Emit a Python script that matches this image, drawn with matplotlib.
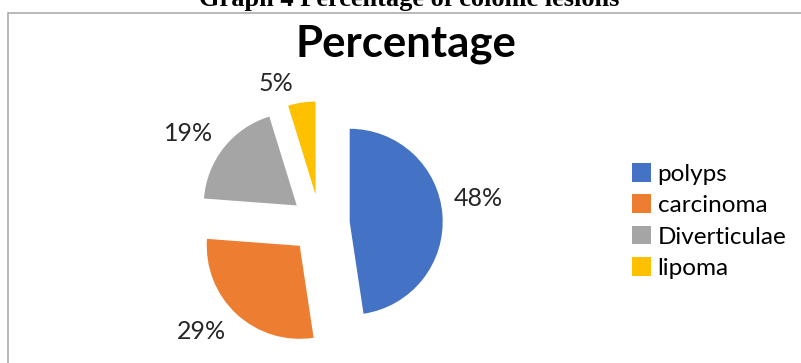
import numpy as np
import matplotlib.pyplot as plt
from matplotlib.patches import Rectangle

# Colonic lesions (case counts; the pie shows their share)
lesions = ['polyps', 'carcinoma', 'Diverticulae', 'lipoma']
cases = [10, 6, 4, 1]
colours = ['#4472C4', '#ED7D31', '#A5A5A5', '#FFC000']

# small nudges for the percentage labels: rotation (degrees) and radial scale
label_turn = [5, -5, 4, 9]
label_scale = [1.0, 1.0, 1.0, 0.92]

W, H = 801, 363
fig = plt.figure(figsize=(W / 100, H / 100), dpi=100)

# pie centre and radius in pixels
cx, cy, r = 320, 224, 93
ax = fig.add_axes([0, 0, 1, 1])

wedges, texts, autotexts = ax.pie(
    cases, colors=colours, startangle=90, counterclock=False,
    explode=[0.32] * len(cases), autopct='%.0f%%', pctdistance=1.40,
    textprops=dict(fontsize=18, family='Lato', color='#262626'),
    wedgeprops=dict(linewidth=0))

ax.set_xlim(-cx / r, (W - cx) / r)
ax.set_ylim(-(H - cy) / r, cy / r)
ax.axis('off')

for t, d, s in zip(autotexts, label_turn, label_scale):
    x, y = t.get_position()
    a = np.deg2rad(d)
    t.set_position((s * (x * np.cos(a) - y * np.sin(a)),
                    s * (x * np.sin(a) + y * np.cos(a))))

fig.legend(wedges, lesions, loc='center left', bbox_to_anchor=(632 / W, 1 - 221 / H),
           frameon=False, prop=dict(family='Lato', size=17.5),
           handlelength=0.8, handleheight=0.8, handletextpad=0.25,
           labelspacing=0.4, borderpad=0, borderaxespad=0)

fig.text(406 / W, 1 - 57 / H, 'Percentage', ha='center', va='baseline',
         fontsize=31.5, weight='bold', family='Lato')

fig.text(409 / W, 1 - 6 / H, 'Graph 4 Percentage of colonic lesions',
         ha='center', va='baseline', family='Liberation Serif',
         weight='bold', fontsize=19)

# chart frame (runs off the right and bottom edges)
fig.add_artist(Rectangle((8 / W, -0.05), 1.0, (H - 13) / H + 0.05,
                         transform=fig.transFigure, fill=False,
                         edgecolor='#A6A6A6', linewidth=1.1))

fig.savefig('out.png', dpi=100)
